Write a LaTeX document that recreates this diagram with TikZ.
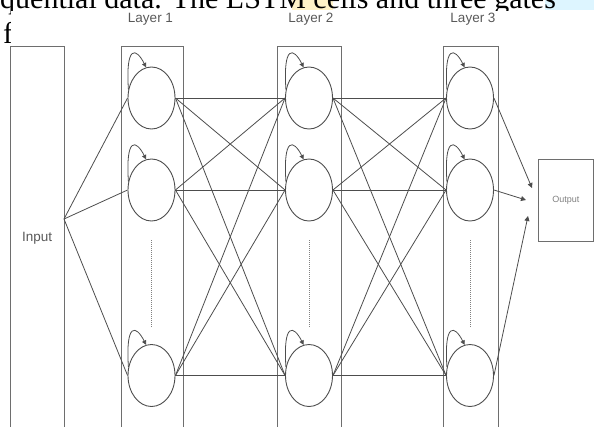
\documentclass[tikz,border=0pt]{standalone}
\usepackage{fontspec}
\setmainfont{Liberation Serif}
\newfontfamily\labelfont{Liberation Sans}
\usetikzlibrary{shapes.geometric,arrows.meta}

\definecolor{linegray}{HTML}{4D4D4D}
\definecolor{boxgray}{HTML}{6E6E6E}
\definecolor{labelgray}{HTML}{595959}
\definecolor{hlyellow}{HTML}{FFF3C8}
\definecolor{hlcyan}{HTML}{DDF5FF}

\begin{document}
\begin{tikzpicture}[x=1pt,y=-1pt,
  box/.style={draw=boxgray, line width=0.9pt, rectangle, inner sep=0pt},
  cell/.style={ellipse, draw=linegray, line width=0.9pt, minimum width=47pt, minimum height=62pt, inner sep=0pt},
  link/.style={draw=linegray, line width=0.8pt},
  selfloop/.style={link, -{Triangle[length=4.5pt,width=4.5pt]}},
  outlink/.style={link, -{Triangle[length=5pt,width=5pt]}},
  dotline/.style={draw=gray, line width=0.8pt, dash pattern=on 1pt off 1pt},
  layerlabel/.style={font=\labelfont\fontsize{13.5}{14}\selectfont, text=labelgray, inner sep=0pt},
  prose/.style={font=\fontsize{30}{30}\selectfont, anchor=base west, inner sep=0pt, text depth=0pt}
]
\useasboundingbox (0,0) rectangle (594,426);
\clip (0,0) rectangle (594,426);

% running text of the page behind the figure
\begin{scope}
  \clip (0,0) rectangle (594,10.5) (0,10.5) rectangle (10.5,50);
  \fill[hlyellow] (292,0) rectangle (333,10);
  \fill[hlcyan] (545,0) rectangle (594,10);
  \node[prose] (line1) at (0,8.5) {quential data. The LSTM cells and three gates};
  \node[prose] (line2) at (3,43) {f};
\end{scope}

% layer titles
\node[layerlabel] (t1) at (150.5,19) {Layer 1};
\node[layerlabel] (t2) at (311,19) {Layer 2};
\node[layerlabel] (t3) at (473,19) {Layer 3};

% input, layer and output boxes
\node[box, anchor=north west, minimum width=54.5pt, minimum height=384pt,
      font=\labelfont\fontsize{13.5}{14}\selectfont, text=labelgray] (input) at (9.5,46) {Input};
\node[box, anchor=north west, minimum width=62pt, minimum height=384pt] (l1) at (121,46) {};
\node[box, anchor=north west, minimum width=64pt, minimum height=384pt] (l2) at (277,46) {};
\node[box, anchor=north west, minimum width=55pt, minimum height=384pt] (l3) at (443,46) {};
\node[box, anchor=north west, minimum width=55pt, minimum height=82pt,
      font=\labelfont\fontsize{9}{10}\selectfont, text=gray] (output) at (538,159) {Output};

% LSTM cells
\foreach \n/\x in {a/151.5, b/309, c/470} {
  \node[cell] (\n1) at (\x,98) {};
  \node[cell] (\n2) at (\x,190) {};
  \node[cell] (\n3) at (\x,375.5) {};
}

% recurrent self-loops and the dotted gap between the cells
\foreach \n in {a,b,c} {
  \foreach \i in {1,2,3} {
    \draw[selfloop] (\n\i.160) .. controls +(-3,-45) and +(-10,-20) .. (\n\i.100);
  }
  \draw[dotline, shorten <=19pt, shorten >=17pt] (\n2.south) -- (\n3.north);
}

% input fan-out
\coordinate (in) at (64,219);
\foreach \i in {1,2,3} \draw[link] (in) -- (a\i.west);

% full connections between layers
\foreach \i in {1,2,3} {
  \foreach \j in {1,2,3} {
    \draw[link] (a\i.east) -- (b\j.west);
    \draw[link] (b\i.east) -- (c\j.west);
  }
}

% connections into the output
\coordinate (o1) at (532,188);
\coordinate (o2) at (526,200);
\coordinate (o3) at (528,216);
\draw[outlink] (c1.east) -- (o1);
\draw[outlink] (c2.east) -- (o2);
\draw[outlink] (c3.east) -- (o3);
\end{tikzpicture}
\end{document}
